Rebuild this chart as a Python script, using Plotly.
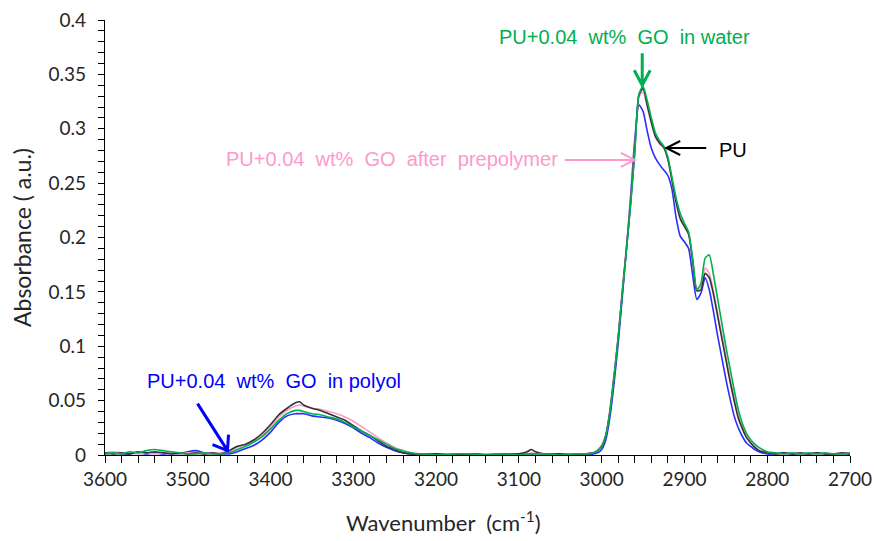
import plotly.graph_objects as go

wavenumber = [3600, 3590, 3580, 3570, 3560, 3550, 3540, 3530, 3520, 3510,
              3500, 3490, 3480, 3470, 3460, 3450, 3440, 3430, 3420, 3410,
              3400, 3390, 3380, 3370, 3365, 3360, 3350, 3340, 3330, 3320,
              3310, 3300, 3290, 3280, 3270, 3260, 3250, 3240, 3230, 3220,
              3210, 3200, 3180, 3160, 3140, 3120, 3100, 3090, 3085, 3080,
              3070, 3050, 3030, 3020, 3010, 3005, 3000, 2995, 2990, 2985,
              2980, 2975, 2970, 2965, 2960, 2955, 2950, 2945, 2940, 2935,
              2930, 2925, 2920, 2915, 2910, 2905, 2900, 2895, 2890, 2885,
              2880, 2875, 2870, 2865, 2860, 2855, 2850, 2845, 2840, 2835,
              2830, 2825, 2820, 2815, 2810, 2800, 2790, 2780, 2770, 2760,
              2750, 2740, 2730, 2720, 2710, 2700]

pu = [0.002, 0.001, 0.002, 0.001, 0.003, 0.002, 0.003, 0.002, 0.001, 0.002,
      0.001, 0.002, 0.001, 0.002, 0.001, 0.004, 0.008, 0.010, 0.014, 0.020,
      0.028, 0.037, 0.043, 0.048, 0.049, 0.046, 0.043, 0.041, 0.038, 0.035,
      0.032, 0.027, 0.022, 0.018, 0.013, 0.008, 0.005, 0.002, 0.001, 0.001,
      0.001, 0.001, 0.000, 0.001, 0.000, 0.001, 0.001, 0.003, 0.005, 0.003,
      0.001, 0.001, 0.000, 0.001, 0.002, 0.004, 0.008, 0.018, 0.040, 0.072,
      0.108, 0.150, 0.190, 0.232, 0.280, 0.331, 0.337, 0.322, 0.306, 0.293,
      0.287, 0.283, 0.272, 0.252, 0.232, 0.217, 0.210, 0.203, 0.178, 0.151,
      0.152, 0.167, 0.163, 0.148, 0.128, 0.108, 0.088, 0.068, 0.050, 0.034,
      0.024, 0.016, 0.011, 0.007, 0.004, 0.002, 0.001, 0.002, 0.001, 0.002,
      0.001, 0.002, 0.001, 0.001, 0.002, 0.001]

go_water = [0.001, 0.002, 0.001, 0.003, 0.002, 0.004, 0.005, 0.004, 0.003, 0.002,
            0.001, 0.001, 0.002, 0.001, 0.001, 0.002, 0.005, 0.008, 0.012, 0.017,
            0.024, 0.032, 0.038, 0.041, 0.041, 0.040, 0.038, 0.037, 0.035, 0.033,
            0.030, 0.026, 0.022, 0.018, 0.014, 0.010, 0.006, 0.004, 0.002, 0.001,
            0.001, 0.000, 0.001, 0.001, 0.000, 0.001, 0.000, 0.001, 0.001, 0.001,
            0.001, 0.000, 0.001, 0.001, 0.002, 0.004, 0.008, 0.018, 0.040, 0.072,
            0.108, 0.150, 0.189, 0.230, 0.278, 0.332, 0.339, 0.326, 0.310, 0.296,
            0.289, 0.284, 0.274, 0.255, 0.236, 0.222, 0.213, 0.205, 0.180, 0.152,
            0.158, 0.181, 0.184, 0.166, 0.144, 0.122, 0.100, 0.080, 0.060, 0.042,
            0.029, 0.020, 0.014, 0.010, 0.007, 0.003, 0.002, 0.001, 0.002, 0.001,
            0.002, 0.001, 0.002, 0.001, 0.001, 0.002]

go_prepolymer = [0.002, 0.003, 0.002, 0.002, 0.001, 0.002, 0.001, 0.002, 0.002, 0.001,
                 0.002, 0.001, 0.002, 0.001, 0.002, 0.003, 0.007, 0.010, 0.013, 0.018,
                 0.026, 0.035, 0.041, 0.045, 0.046, 0.045, 0.043, 0.042, 0.040, 0.038,
                 0.035, 0.031, 0.026, 0.021, 0.016, 0.011, 0.007, 0.004, 0.002, 0.001,
                 0.001, 0.000, 0.001, 0.000, 0.001, 0.000, 0.001, 0.001, 0.002, 0.001,
                 0.001, 0.001, 0.000, 0.001, 0.002, 0.004, 0.009, 0.019, 0.042, 0.074,
                 0.110, 0.152, 0.192, 0.234, 0.282, 0.329, 0.334, 0.320, 0.305, 0.292,
                 0.286, 0.282, 0.272, 0.253, 0.234, 0.219, 0.211, 0.204, 0.179, 0.152,
                 0.155, 0.172, 0.167, 0.151, 0.131, 0.111, 0.091, 0.071, 0.053, 0.037,
                 0.026, 0.018, 0.012, 0.008, 0.005, 0.002, 0.001, 0.001, 0.002, 0.001,
                 0.001, 0.001, 0.002, 0.001, 0.001, 0.002]

go_polyol = [0.001, 0.002, 0.001, 0.001, 0.002, 0.001, 0.002, 0.001, 0.002, 0.001,
             0.003, 0.004, 0.002, 0.001, 0.001, 0.001, 0.003, 0.006, 0.009, 0.014,
             0.021, 0.030, 0.036, 0.038, 0.038, 0.038, 0.036, 0.035, 0.034, 0.032,
             0.029, 0.025, 0.020, 0.016, 0.011, 0.007, 0.004, 0.002, 0.001, 0.001,
             0.000, 0.001, 0.000, 0.001, 0.001, 0.000, 0.001, 0.001, 0.001, 0.000,
             0.001, 0.000, 0.001, 0.000, 0.001, 0.002, 0.005, 0.014, 0.035, 0.066,
             0.103, 0.146, 0.190, 0.238, 0.290, 0.322, 0.316, 0.298, 0.282, 0.273,
             0.267, 0.262, 0.257, 0.244, 0.218, 0.201, 0.196, 0.190, 0.165, 0.143,
             0.149, 0.163, 0.152, 0.132, 0.110, 0.090, 0.070, 0.052, 0.036, 0.025,
             0.017, 0.011, 0.008, 0.005, 0.003, 0.001, 0.001, 0.002, 0.001, 0.001,
             0.001, 0.002, 0.001, 0.001, 0.001, 0.001]

GREEN = "#00B050"
PINK = "#FF99CC"
BLUE = "#0000FF"
BLACK = "#000000"

series = [
    ("PU+0.04 wt% GO in polyol", go_polyol, "#2B2BFF"),
    ("PU+0.04 wt% GO after prepolymer", go_prepolymer, PINK),
    ("PU", pu, "#333333"),
    ("PU+0.04 wt% GO in water", go_water, GREEN),
]

fig = go.Figure()
for name, vals, color in series:
    fig.add_trace(go.Scatter(x=wavenumber, y=vals, mode="lines", name=name,
                             line=dict(color=color, width=1.6, shape="spline", smoothing=0.6)))

ann_font = "Liberation Sans, Arial, sans-serif"
title_font = dict(family="Lato, Open Sans, sans-serif", size=22, color="#262626")
annotations = [
    dict(text="PU+0.04  wt%  GO  in water", x=2973, y=0.3844, xref="x", yref="y",
         xanchor="center", yanchor="middle", showarrow=False,
         font=dict(color=GREEN, size=20, family=ann_font)),
    dict(text="PU", x=2841, y=0.2805, xref="x", yref="y", xanchor="center", yanchor="middle",
         showarrow=False, font=dict(color=BLACK, size=20, family=ann_font)),
    dict(text="PU+0.04  wt%  GO  after  prepolymer", x=3050, y=0.2722, xref="x", yref="y",
         xanchor="right", yanchor="middle", showarrow=False,
         font=dict(color=PINK, size=20, family=ann_font)),
    dict(text="PU+0.04  wt%  GO  in polyol", x=3552, y=0.068, xref="x", yref="y",
         xanchor="left", yanchor="middle", showarrow=False,
         font=dict(color=BLUE, size=20, family=ann_font)),
    # x-axis title (placed left of centre as in the reference)
    dict(text="Wavenumber  (cm<sup>-1</sup>)", x=0.4537, y=-0.154, xref="paper", yref="paper",
         xanchor="center", yanchor="middle", showarrow=False, font=title_font),
]

# arrows: tip anchored on data position, body drawn in pixels relative to the tip
arrows = [
    (2951, 0.340, "M 0,32 L 0,0 M -8,15 L 0,0 L 8,15", GREEN, 3),
    (2922, 0.2823, "M 40,0 L 0,0 M 14,7 L 0,0 L 14,-7", BLACK, 2),
    (2960, 0.2713, "M -70,0 L 0,0 M -14,7 L 0,0 L -14,-7", PINK, 2),
    (3452, 0.004, "M -30,47 L 0,0 M -15,6 L 0,0 L 1,16", BLUE, 3),
]
shapes = []
for xa, ya, path, color, w in arrows:
    shapes.append(dict(type="path", xref="x", yref="y", xsizemode="pixel", ysizemode="pixel",
                       xanchor=xa, yanchor=ya, path=path,
                       line=dict(color=color, width=w)))

tick_font = dict(family="Lato, Open Sans, sans-serif", size=19, color="#262626")
ytitle_font = dict(family="Lato, Open Sans, sans-serif", size=23, color="#262626")

fig.update_layout(
    width=874, height=541,
    margin=dict(l=105, r=24, t=20, b=86),
    paper_bgcolor="white", plot_bgcolor="white",
    showlegend=False,
    annotations=annotations,
    shapes=shapes,
    xaxis=dict(
        range=[3600, 2700], tickmode="linear", tick0=2700, dtick=100,
        ticks="outside", ticklen=7, tickwidth=1.2, tickcolor="#000000",
        minor=dict(dtick=20, tick0=2700, ticks="outside", ticklen=7, tickwidth=1.2, tickcolor="#000000"),
        showline=True, linecolor="#000000", linewidth=1.2,
        showgrid=False, zeroline=False, tickfont=tick_font, automargin=False,
    ),
    yaxis=dict(
        range=[0, 0.4], tickmode="linear", tick0=0, dtick=0.05,
        ticks="outside", ticklen=6, tickwidth=1.2, tickcolor="#000000",
        minor=dict(dtick=0.01, ticks="outside", ticklen=6, tickwidth=1.2, tickcolor="#000000"),
        showline=True, linecolor="#000000", linewidth=1.2, ticklabelstandoff=8,
        showgrid=False, zeroline=False, tickfont=tick_font, automargin=False,
        title=dict(text="Absorbance ( a.u.)", font=ytitle_font, standoff=10),
    ),
)

fig.write_html("out.html")
